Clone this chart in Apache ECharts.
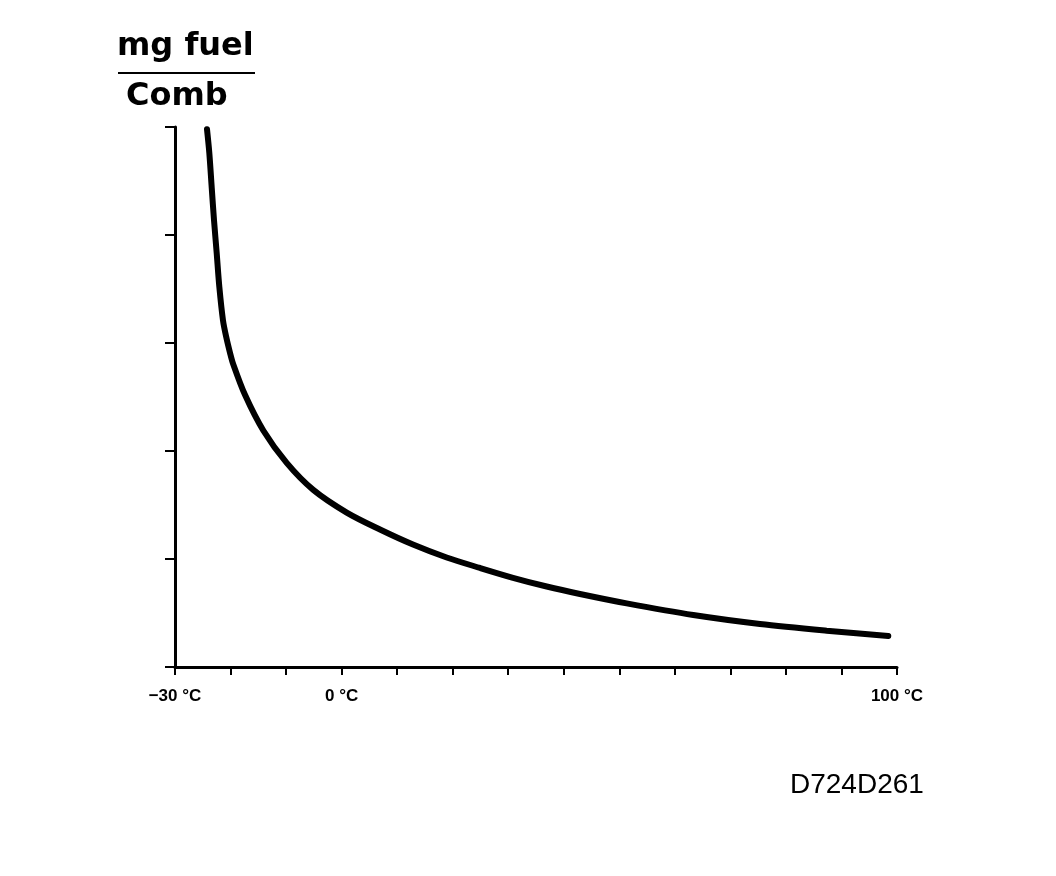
<!DOCTYPE html>
<html><head><meta charset="utf-8">
<script src="https://cdn.jsdelivr.net/npm/echarts@6/dist/echarts.min.js"></script>
<style>html,body{margin:0;padding:0;background:#fff}#c{width:1056px;height:876px}</style>
</head><body><div id="c"></div>
<script>
const temps = [-24.24, -23.82, -23.39, -22.98, -22.49, -22.02, -21.36, -20.78, -20.10, -19.56, -17.40, -14.10, -9.89, -5.10, 0.92, 6.91, 12.85, 18.92, 24.92, 30.86, 36.93, 42.92, 51.33, 63.32, 75.33, 87.34, 98.43];
const fuel  = [4.98, 4.76, 4.44, 4.14, 3.83, 3.52, 3.21, 3.056, 2.91, 2.81, 2.52, 2.19, 1.89, 1.64, 1.43, 1.273, 1.134, 1.014, 0.917, 0.826, 0.745, 0.676, 0.589, 0.481, 0.398, 0.336, 0.287];
const xLabelValues = [-30, 0, 100];
const xLabelTexts = ['−30 °C', '0 °C', '100 °C'];
const yTitleTop = 'mg fuel';
const yTitleBottom = 'Comb';
const figureId = 'D724D261';

const chart = echarts.init(document.getElementById('c'), null, {renderer: 'canvas'});
chart.setOption({
  backgroundColor: '#fff',
  animation: false,
  grid: {left: 175, right: 159, top: 127, bottom: 209},
  xAxis: {
    type: 'value', min: -30, max: 100, interval: 10,
    splitLine: {show: false},
    axisLine: {onZero: false, lineStyle: {color: '#000', width: 3}},
    axisTick: {show: true, inside: false, length: 8, lineStyle: {color: '#000', width: 2}},
    axisLabel: {
      margin: 21, color: '#000', fontSize: 17, fontWeight: 'bold', fontFamily: 'Liberation Sans',
      formatter: v => { const i = xLabelValues.indexOf(v); return i >= 0 ? xLabelTexts[i] : ''; },
      showMinLabel: true, showMaxLabel: true
    }
  },
  yAxis: {
    type: 'value', min: 0, max: 5, interval: 1,
    splitLine: {show: false},
    axisLine: {onZero: false, lineStyle: {color: '#000', width: 3}},
    axisTick: {show: true, inside: false, length: 10, lineStyle: {color: '#000', width: 2}},
    axisLabel: {show: false}
  },
  graphic: [
    {type: 'text', left: 117, top: 31, style: {text: yTitleTop, font: 'bold 32px "DejaVu Sans"', fill: '#000'}},
    {type: 'rect', shape: {x: 118, y: 72, width: 137, height: 2}, style: {fill: '#000'}},
    {type: 'text', left: 126, top: 81, style: {text: yTitleBottom, font: 'bold 32px "DejaVu Sans"', fill: '#000'}},
    {type: 'text', left: 790, top: 771, style: {text: figureId, font: '28px "Liberation Sans"', fill: '#000'}}
  ],
  series: [{
    type: 'line',
    data: temps.map((t, i) => [t, fuel[i]]),
    smooth: 0.3,
    showSymbol: false,
    clip: false,
    lineStyle: {color: '#000', width: 6, cap: 'round'}
  }]
});
</script></body></html>
